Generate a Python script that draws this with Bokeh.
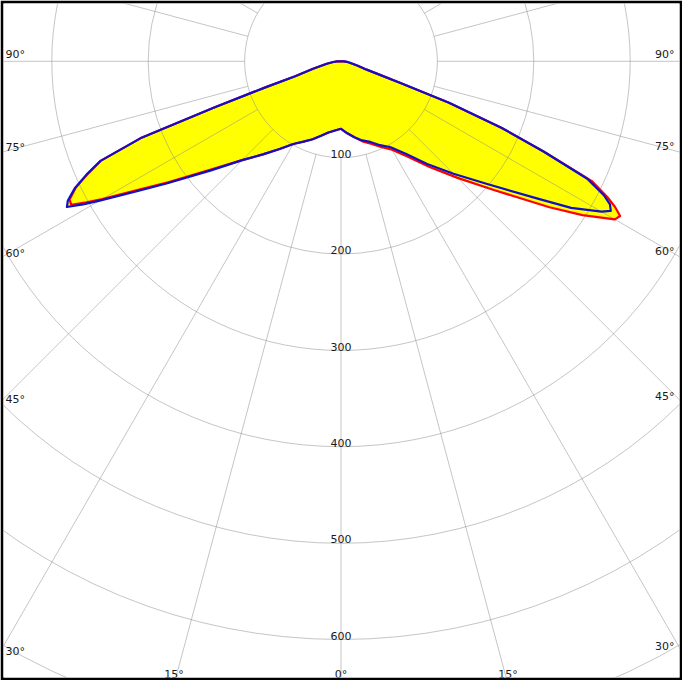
import numpy as np
from bokeh.plotting import figure
from bokeh.models import Range1d
from bokeh.embed import file_html
from bokeh.resources import INLINE
from bokeh.core.properties import value

# ---- data (cd values) ----
gamma = [0, 5, 10, 15, 20, 25, 30, 35, 40, 45, 50, 55, 57.5, 60, 61, 62, 63, 64.5,
         66, 67.5, 69, 70, 71, 72, 75, 80, 85, 90, 180]
blue_left = [70, 72, 75, 80, 86, 92, 99, 111, 126, 145, 176, 221, 251, 289, 306, 322, 318, 306,
             289, 270, 223, 140, 83, 50, 30, 15, 8, 4, 0]
red_left = [70, 72, 75, 80, 86, 92, 99, 111, 126, 145, 174, 219, 247, 286, 302, 317, 316, 305,
            288, 270, 223, 140, 83, 50, 30, 15, 8, 4, 0]
blue_right = [70, 75, 80, 85, 89, 96, 103, 117, 139, 165, 198, 248, 283, 312, 320, 316, 306, 283,
              230, 180, 120, 65, 40, 28, 18, 10, 6, 3, 0]
red_right = [70, 75, 80, 86, 91, 98, 106, 121, 143, 171, 208, 264, 297, 328, 331, 322, 310, 288,
             230, 180, 120, 65, 40, 28, 18, 10, 6, 3, 0]

ring_values = [100, 200, 300, 400, 500, 600, 700]
ring_labels = ["100", "200", "300", "400", "500", "600"]
angle_ticks = [90, 75, 60, 45, 30, 15, 0]
spoke_angles = list(range(0, 360, 15))

# ---- geometry / layout ----
S = 0.964            # px per cd
CX, CY = 348.5, 68.8  # pole position on the page (px)
W, H, B = 682, 680, 3
fl, ft = 8 + B, 8 + B
x0 = (fl - CX) / S
x1 = x0 + (W - 2 * B) / S
y1 = (CY - ft) / S
y0 = y1 - (H - 2 * B) / S

p = figure(width=W, height=H, x_range=Range1d(x0, x1), y_range=Range1d(y0, y1),
           output_backend="svg", toolbar_location=None,
           x_axis_type=None, y_axis_type=None,
           min_border=B, border_fill_color="black",
           background_fill_color="white", outline_line_color=None)


def half(vals, side):
    g = np.radians(np.array(gamma, dtype=float))
    r = np.array(vals, dtype=float)
    return side * r * np.sin(g), -r * np.cos(g)


def curve(left, right):
    lx, ly = half(left, -1)
    rx, ry = half(right, 1)
    return np.concatenate([lx[::-1], rx]), np.concatenate([ly[::-1], ry])


rx_, ry_ = curve(red_left, red_right)
bx_, by_ = curve(blue_left, blue_right)

# yellow fill
p.patch(rx_, ry_, fill_color="#FFFF00", line_color=None)
p.patch(bx_, by_, fill_color="#FFFF00", line_color=None)

# grid
grid_col = "#8c8c8c"
p.circle(x=[0] * len(ring_values), y=[0] * len(ring_values), radius=ring_values,
         fill_color=None, line_color=grid_col, line_alpha=0.5, line_width=1)
a = np.radians(np.array(spoke_angles, dtype=float))
r_in, r_out = ring_values[0], 900
p.segment(x0=r_in * np.sin(a), y0=-r_in * np.cos(a), x1=r_out * np.sin(a), y1=-r_out * np.cos(a),
          line_color=grid_col, line_alpha=0.5, line_width=1)

# curves
p.line(rx_, ry_, line_color="#FF0000", line_width=2.2, line_join="round")
p.line(bx_, by_, line_color="#1010C8", line_width=2.2, line_join="round")

font = value("DejaVu Sans")
fs = "11px"
tc = "#1a1a1a"

# ring labels
p.text(x=[0] * len(ring_labels), y=[-v for v in ring_values[:len(ring_labels)]], text=ring_labels,
       text_font=font, text_font_size=fs, text_color=tc, text_align="center",
       text_baseline="bottom")

# angle labels placed where the spokes leave the label box
LB_l = (4 - CX) / S
LB_r = (690 - CX) / S
LB_b = -(692 - CY) / S
groups = {"left": ([], [], []), "right": ([], [], []), "bottom": ([], [], [])}
for t in angle_ticks:
    for side in ([-1, 1] if t != 0 else [1]):
        s_, c_ = np.sin(np.radians(t)), np.cos(np.radians(t))
        edge = LB_r if side > 0 else -LB_l
        tx = edge / s_ if s_ > 1e-9 else 1e9
        ty = -LB_b / c_ if c_ > 1e-9 else 1e9
        if tx < ty:
            key = "right" if side > 0 else "left"
            px, py = side * tx * s_, -tx * c_
        else:
            key = "bottom"
            px, py = side * ty * s_, -ty * c_
        groups[key][0].append(px)
        groups[key][1].append(py)
        groups[key][2].append(f"{t}°")

p.text(x=groups["left"][0], y=groups["left"][1], text=groups["left"][2], text_font=font,
       text_font_size=fs, text_color=tc, text_align="left", text_baseline="bottom", x_offset=9)
p.text(x=groups["right"][0], y=groups["right"][1], text=groups["right"][2], text_font=font,
       text_font_size=fs, text_color=tc, text_align="right", text_baseline="bottom", x_offset=-8)
p.text(x=groups["bottom"][0], y=groups["bottom"][1], text=groups["bottom"][2], text_font=font,
       text_font_size=fs, text_color=tc, text_align="center", text_baseline="bottom", y_offset=-4)

open("out.html", "w").write(file_html(p, INLINE))
